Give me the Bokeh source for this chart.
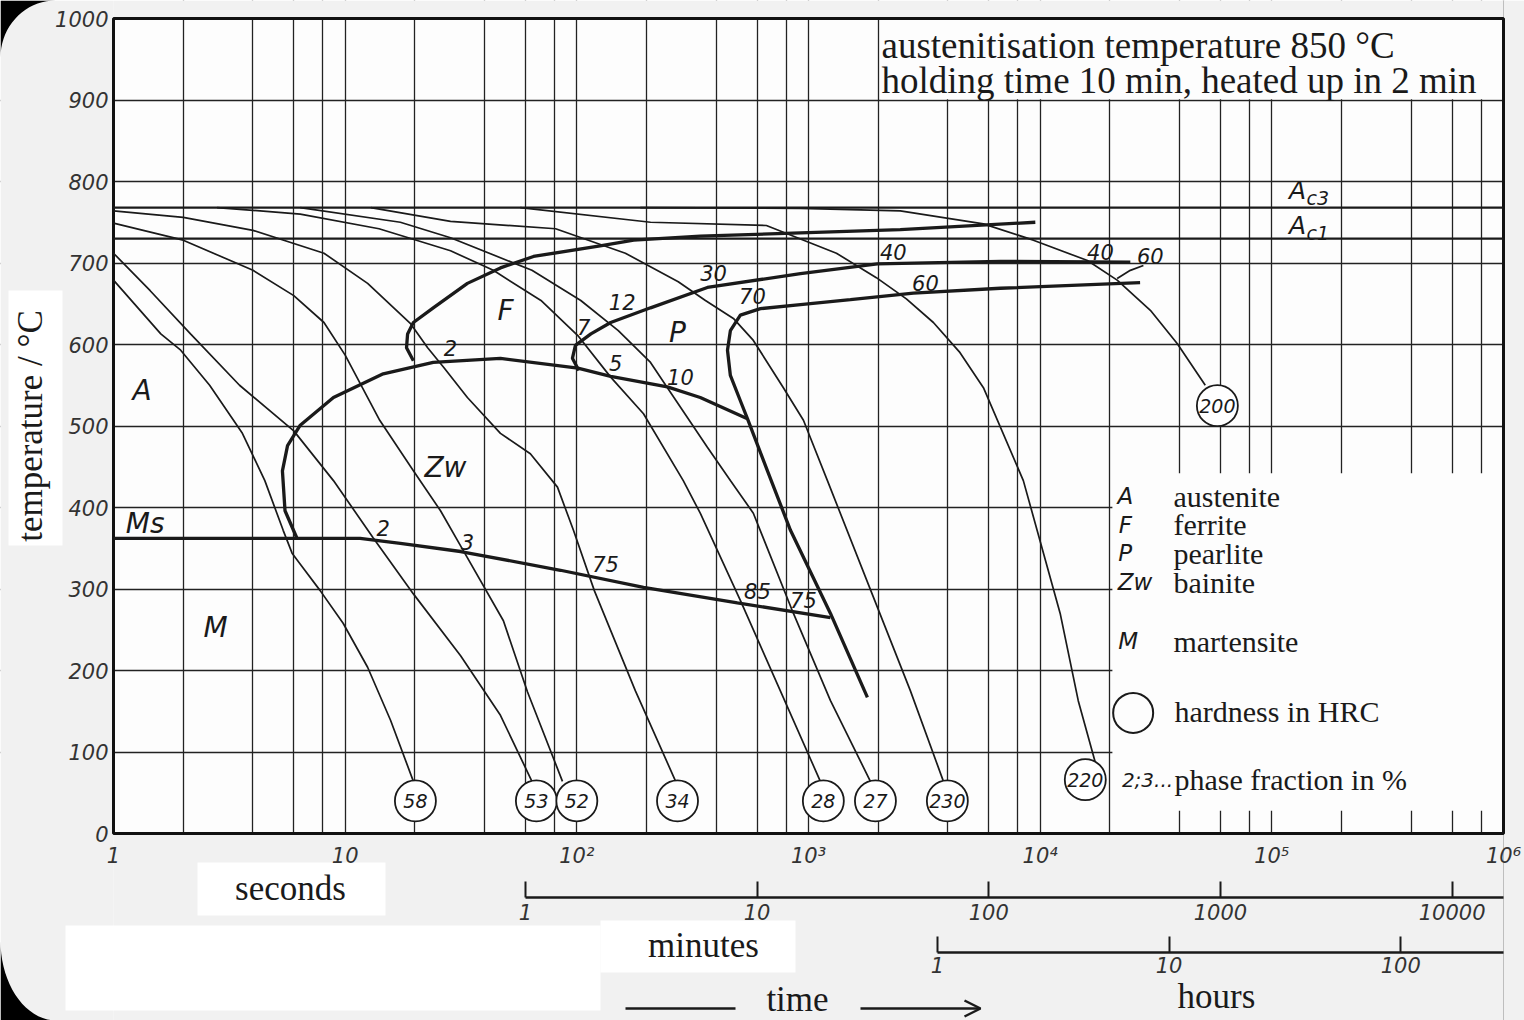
import numpy as np
from bokeh.plotting import figure
from bokeh.models import FixedTicker, LogAxis, Arrow, OpenHead, Range1d
from bokeh.core.properties import value
from bokeh.embed import file_html
from bokeh.resources import INLINE

# ---------------- data (time in s, temperature in °C) ----------------
ac3_temp = 768
ac1_temp = 730

# cooling curves, named after the hardness at their end
t58 = [1.0, 1.6, 1.95, 2.6, 3.6, 4.5, 5.4, 5.9, 6.5, 7.8, 9.8, 12.5, 15.7, 19.7]
T58 = [679, 613, 593, 550, 491, 433, 372, 344, 328, 298, 258, 204, 139, 64]
t53 = [1.0, 1.44, 2.15, 3.5, 6.0, 8.9, 13.2, 19.7, 31.5, 46.8, 64]
T53 = [712, 666, 613, 550, 494, 433, 363, 294, 218, 145, 64]
t52 = [1.0, 2.0, 4.0, 6.0, 8.1, 10.0, 14.1, 19.7, 25.8, 31.5, 48.2, 61.2, 86.7]
T52 = [749, 728, 691, 660, 627, 587, 507, 445, 396, 353, 261, 174, 64]
t34 = [1.0, 2.0, 4.0, 8.1, 12.5, 19.1, 22.7, 26.6, 33.7, 46.8, 63, 82.5, 96.7, 119, 179, 267]
T34 = [764, 756, 740, 712, 675, 626, 596, 572, 535, 491, 466, 425, 372, 298, 175, 64]
t28 = [2.8, 6.4, 14, 28.5, 43.6, 70, 101, 140, 194, 288, 341, 508, 756, 1125]
T28 = [768, 760, 742, 715, 691, 654, 611, 560, 515, 433, 393, 286, 175, 64]
t27 = [6.4, 17.3, 28.5, 64, 104, 151, 208, 246, 366, 460, 578, 861, 1244, 1850]
T27 = [768, 750, 731, 691, 654, 617, 578, 547, 474, 433, 393, 270, 163, 64]
t230 = [12.9, 28.5, 81, 162, 274, 359, 474, 578, 779, 951, 1207, 1906, 2754, 3823]
T230 = [768, 751, 742, 712, 677, 654, 632, 605, 547, 507, 433, 290, 175, 64]
t220 = [57, 208, 658, 1320, 1963, 2645, 3460, 4480, 5690, 8460, 12200, 14600, 17300]
T220 = [768, 750, 746, 712, 682, 656, 627, 591, 547, 433, 270, 163, 87]
t200 = [188, 923, 2490, 5690, 9350, 16000, 21500, 29900, 39100, 51600]
T200 = [768, 767, 764, 748, 728, 703, 679, 642, 601, 550]

# transformation lines
tF = [19.7, 18.4, 18.6, 19.7, 24, 33.7, 46.8, 65, 126, 176, 341, 923, 2490, 9530]
TF = [580, 596, 613, 627, 645, 675, 694, 708, 721, 728, 733, 737, 741, 750]
tB = [6.2, 5.5, 5.36, 5.64, 6.4, 8.9, 14.6, 24, 46.8, 101, 140, 246, 341, 545]
TB = [362, 396, 445, 476, 501, 535, 564, 578, 583, 571, 561, 548, 535, 509]
tP = [102, 95.7, 98.6, 115, 140, 208, 366, 923, 1983, 6735, 24500]
TP = [568, 583, 599, 613, 627, 645, 670, 687, 699, 702, 701]
tPE = [27000, 6735, 2837, 1517, 923, 620, 508, 460, 447, 460, 508, 545, 665, 836, 1244, 1796]
TPE = [676, 669, 663, 655, 649, 644, 636, 617, 593, 562, 531, 509, 445, 372, 270, 167]
tMs = [1, 11.6, 17.3, 31.5, 85, 194, 493, 1244]
TMs = [362, 362, 356, 346, 323, 302, 283, 265]
t_lead = [21500, 24500, 27900]
T_lead = [681, 691, 697]

# hardness values at the end of the cooling curves
hrc = ["58", "53", "52", "34", "28", "27", "230", "220", "200"]
hrc_t = [20.1, 66.9, 100, 272, 1159, 1945, 3975, 15660, 58200]
hrc_T = [40, 40, 40, 40, 40, 40, 40, 66, 525]

# phase fractions in %
pct = ["2", "7", "12", "30", "70", "40", "60", "40", "60", "5", "10", "2", "3", "75", "85", "75"]
pct_t = [28.5, 107, 157, 389, 573, 2323, 3198, 18200, 29900, 147, 280, 14.6, 33.7, 133, 602, 951]
pct_T = [596, 621, 652, 688, 660, 713, 676, 713, 709, 577, 560, 375, 358, 331, 298, 286]

# phase region labels
regions = ["A", "F", "P", "Zw", "M", "Ms"]
region_t = [1.33, 49.2, 272, 27.1, 2.76, 1.37]
region_T = [544, 642, 615, 449, 253, 380]

# axis ticks
y_ticks = list(range(0, 1001, 100))
sec_ticks = [1, 10, 100, 1000, 10000, 100000, 1000000]
sec_labels = ["1", "10", "10²", "10³", "10⁴", "10⁵", "10⁶"]
min_ticks = [60, 600, 6000, 60000, 600000]
min_labels = ["1", "10", "100", "1000", "10000"]
hour_ticks = [3600, 36000, 360000]
hour_labels = ["1", "10", "100"]
grid_mult = [2, 4, 6, 8, 10]
grid_t = [m * 10 ** k for k in range(6) for m in grid_mult]
grid_T = list(range(100, 1000, 100))

legend_sym = ["A", "F", "P", "Zw", "M"]
legend_txt = ["austenite", "ferrite", "pearlite", "bainite", "martensite"]
legend_T = [414, 379, 344, 308, 236]

# ---------------- layout ----------------
W, H = 1524, 1020
FR_L, FR_R, FR_T, FR_B = 113, 1503, 18, 833       # chart box in canvas pixels
PPD = (FR_R - FR_L) / 6.0                          # pixels per decade
PPC = (FR_B - FR_T) / 1000.0                       # pixels per °C


def at(xp, yp):
    """canvas pixel -> (time, temperature) for decoration placement"""
    return 10 ** ((xp - FR_L) / PPD), (FR_B - yp) / PPC


x0, y1 = at(0, 0)
x1, y0 = at(W, H)

INK = "#1a1a1a"
HAND = "DejaVu Sans"
SERIF = "Liberation Serif"
PAPER = "#fdfdfd"
MARGIN = "#f1f1f1"

p = figure(width=W, height=H, x_axis_type="log", title=None,
           x_range=Range1d(x0, x1), y_range=Range1d(y0, y1),
           output_backend="svg", toolbar_location=None,
           min_border_left=0, min_border_right=0, min_border_top=0, min_border_bottom=0,
           background_fill_color=PAPER, border_fill_color=MARGIN)
p.outline_line_color = None

# grid
p.xgrid.ticker = FixedTicker(ticks=grid_t)
p.ygrid.ticker = FixedTicker(ticks=grid_T)
p.grid.grid_line_color = "#222222"
p.grid.grid_line_width = 1.3
p.grid.grid_line_alpha = 1.0

# margins around the chart box (hide the grid there)
p.quad(left=[x0, 1e6, 1, 1], right=[1, x1, 1e6, 1e6], bottom=[y0, y0, y0, 1000],
       top=[y1, y1, 0, y1], fill_color=MARGIN, line_color=None)
# lighter patches of the scan
p.quad(left=[at(8, 0)[0], at(197, 0)[0], at(600, 0)[0], at(65, 0)[0]],
       right=[at(62, 0)[0], at(385, 0)[0], at(795, 0)[0], at(600, 0)[0]],
       bottom=[at(0, 545)[1], at(0, 915)[1], at(0, 972)[1], at(0, 1010)[1]],
       top=[at(0, 290)[1], at(0, 862)[1], at(0, 920)[1], at(0, 925)[1]],
       fill_color="white", line_color=None)
# dark rounded corners of the photographed page
th = np.linspace(0, np.pi / 2, 20)
tl = [at(0, 0)] + [at(55 - 55 * np.cos(a), 57 - 57 * np.sin(a)) for a in th]
bl = [at(0, H)] + [at(56 - 56 * np.cos(a), 940 + 80 * np.sin(a)) for a in th]
p.patches([[q[0] for q in tl], [q[0] for q in bl]], [[q[1] for q in tl], [q[1] for q in bl]],
          fill_color="black", line_color=None)

# blank boxes for the title and legend
p.quad(left=[2050], right=[1e6], bottom=[901], top=[1000], fill_color=PAPER, line_color=None)
p.quad(left=[20500], right=[1e6], bottom=[28], top=[442], fill_color=PAPER, line_color=None)

# chart frame
p.quad(left=[1], right=[1e6], bottom=[0], top=[1000], fill_color=None,
       line_color="#111111", line_width=3)

# y axis
ya = p.yaxis[0]
ya.fixed_location = 1
ya.bounds = (0, 1000)
ya.ticker = FixedTicker(ticks=y_ticks, minor_ticks=[])
ya.axis_line_color = None
ya.major_tick_out = 0
ya.major_tick_in = 0
ya.major_label_standoff = 5
ya.major_label_text_font = HAND
ya.major_label_text_font_style = "italic"
ya.major_label_text_font_size = "21px"
ya.major_label_text_color = "#333333"
ya.axis_label = "temperature / °C"
ya.axis_label_text_font = SERIF
ya.axis_label_text_font_style = "normal"
ya.axis_label_text_font_size = "35px"
ya.axis_label_text_color = INK
ya.axis_label_standoff = 2


def style_time_axis(ax, ticks, labels, standoff, loc):
    ax.fixed_location = loc
    ax.ticker = FixedTicker(ticks=ticks, minor_ticks=[])
    ax.major_label_overrides = dict(zip(ticks, labels))
    ax.major_label_standoff = standoff
    ax.major_label_text_font = HAND
    ax.major_label_text_font_style = "italic"
    ax.major_label_text_font_size = "21px"
    ax.major_label_text_color = "#333333"
    ax.minor_tick_line_color = None
    ax.axis_line_width = 2.5
    ax.axis_line_color = INK
    ax.major_tick_in = 16
    ax.major_tick_out = 0
    ax.major_tick_line_width = 2
    ax.major_tick_line_color = INK


# seconds axis (at the bottom of the chart box)
xa = p.xaxis[0]
style_time_axis(xa, sec_ticks, sec_labels, 10, 0)
xa.axis_line_color = None
xa.major_tick_in = 0

# minutes and hours axes
ax_min = LogAxis()
style_time_axis(ax_min, min_ticks, min_labels, 6, at(0, 897)[1])
ax_min.bounds = (60, 1e6)
p.add_layout(ax_min, "below")

ax_h = LogAxis()
style_time_axis(ax_h, hour_ticks, hour_labels, 4, at(0, 952)[1])
ax_h.bounds = (3600, 1e6)
p.add_layout(ax_h, "below")

# Ac lines
p.segment(x0=[1, 1], x1=[1e6, 1e6], y0=[ac3_temp, ac1_temp], y1=[ac3_temp, ac1_temp],
          line_color=INK, line_width=2.2)

# cooling curves
for ts, Ts in [(t58, T58), (t53, T53), (t52, T52), (t34, T34), (t28, T28), (t27, T27),
               (t230, T230), (t220, T220), (t200, T200), (t_lead, T_lead)]:
    p.line(ts, Ts, line_color=INK, line_width=1.7)

# transformation lines
for ts, Ts in [(tF, TF), (tB, TB), (tP, TP), (tPE, TPE), (tMs, TMs)]:
    p.line(ts, Ts, line_color=INK, line_width=3.3)

# hardness circles
p.scatter(hrc_t, hrc_T, marker="circle", size=41, fill_color="white",
          line_color=INK, line_width=1.8)
p.text(hrc_t, hrc_T, text=hrc, text_font=value(HAND), text_font_style="italic",
       text_font_size="19px", text_align="center", text_baseline="middle", text_color=INK)

# percentages
p.text(pct_t, pct_T, text=pct, text_font=value(HAND), text_font_style="italic",
       text_font_size="21px", text_align="center", text_baseline="middle", text_color=INK)

# region labels
p.text(region_t, region_T, text=regions, text_font=value(HAND), text_font_style="italic",
       text_font_size="28px", text_align="center", text_baseline="middle", text_color=INK)

# Ac labels
p.text([at(1297, 0)[0]] * 2, [at(0, 190)[1], at(0, 225)[1]], text=["A", "A"],
       text_font=value(HAND), text_font_style="italic", text_font_size="25px",
       text_align="center", text_baseline="middle", text_color=INK)
p.text([at(1306, 0)[0]] * 2, [at(0, 197)[1], at(0, 232)[1]], text=["c3", "c1"],
       text_font=value(HAND), text_font_style="italic", text_font_size="19px",
       text_align="left", text_baseline="middle", text_color=INK)

# title box text
p.text([at(881, 0)[0]] * 2, [at(0, 45)[1], at(0, 80)[1]],
       text=["austenitisation temperature 850 °C", "holding time 10 min, heated up in 2 min"],
       text_font=value(SERIF), text_font_size="37px", text_align="left",
       text_baseline="middle", text_color=INK)

# legend
p.text([23300, 23300, 23300, 25700, 24000], legend_T, text=legend_sym, text_font=value(HAND),
       text_font_style="italic", text_font_size="23px", text_align="center",
       text_baseline="middle", text_color=INK)
p.text([37600] * 5, legend_T, text=legend_txt, text_font=value(SERIF),
       text_font_size="30px", text_align="left", text_baseline="middle", text_color=INK)
p.scatter([25200], [148], marker="circle", size=40, fill_color=None, line_color=INK, line_width=2)
p.text([38000, 38000], [150, 66], text=["hardness in HRC", "phase fraction in %"],
       text_font=value(SERIF), text_font_size="30px", text_align="left",
       text_baseline="middle", text_color=INK)
p.text([37500], [66], text=["2;3..."], text_font=value(HAND), text_font_style="italic",
       text_font_size="20px", text_align="right", text_baseline="middle", text_color=INK)

# time-scale names below the chart
names = ["seconds", "minutes", "hours", "time"]
name_px = [(290, 888), (703, 945), (1216, 996), (797, 999)]
p.text([at(a, b)[0] for a, b in name_px], [at(a, b)[1] for a, b in name_px], text=names,
       text_font=value(SERIF), text_font_size="35px", text_align="center",
       text_baseline="middle", text_color=INK)

ya_arrow = at(0, 1008)[1]
p.add_layout(Arrow(x_start=at(625, 0)[0], y_start=ya_arrow, x_end=at(735, 0)[0], y_end=ya_arrow,
                   end=None, line_color=INK, line_width=2.5))
p.add_layout(Arrow(x_start=at(860, 0)[0], y_start=ya_arrow, x_end=at(980, 0)[0], y_end=ya_arrow,
                   end=OpenHead(size=16, line_width=2.5, line_color=INK),
                   line_color=INK, line_width=2.5))

open("out.html", "w").write(file_html(p, INLINE))
